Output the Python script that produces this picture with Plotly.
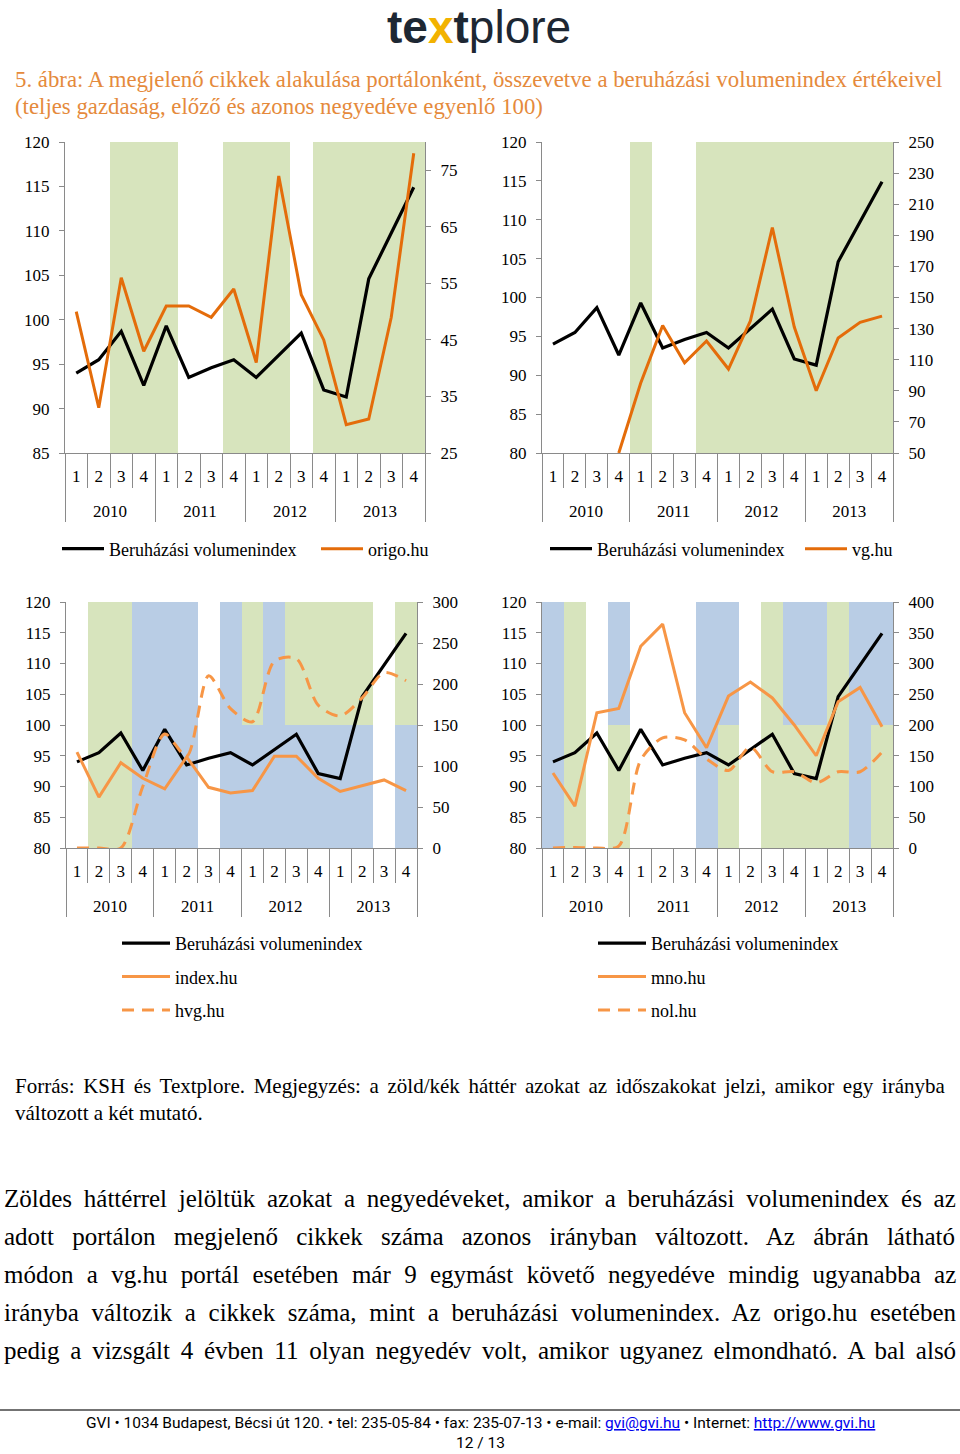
import plotly.graph_objects as go

W, H = 960, 1454


def fx(p):
    return p / W


def fy(p):
    return 1 - p / H


SERIF = "Liberation Serif, Times New Roman, serif"
GREY = "#8a8a8a"
GREEN = "#D7E4BD"
BLUE = "#B9CDE5"
NONE = "rgba(0,0,0,0)"
DARK_OR = "#E46C0A"
LIGHT_OR = "#F79646"
SHADE = {"g": GREEN, "b": BLUE, "": NONE}

# ---------------- data ----------------
YEARS = ["2010", "2011", "2012", "2013"]
QUARTERS = ["1", "2", "3", "4"]

beruhazasi = [94.0, 95.5, 98.7, 92.6, 99.3, 93.5, 94.6, 95.5,
              93.5, 96.0, 98.5, 92.1, 91.3, 104.6, 109.8, 114.9]
origo = [50, 33, 56, 43, 51, 51, 49, 54, 41, 74, 53, 45, 30, 31, 49, 78]
vg = [None, None, None, 50, 95, 132, 108, 122, 104, 135, 195, 131, 90, 124, 134, 138]
index_hu = [117, 62, 104, 85, 72, 111, 74, 67, 70, 112, 112, 85, 69, 76, 83, 70]
hvg = [0, 0, 0, 75, 139, 112, 210, 170, 154, 228, 231, 174, 161, 183, 214, 204]
mno = [122, 68, 220, 227, 328, 364, 220, 163, 247, 270, 244, 200, 150, 238, 261, 197]
nol = [0, 1, 0, 3, 143, 179, 176, 145, 126, 164, 124, 124, 106, 124, 124, 156]

# background shading per quarter ("g" green, "b" blue, "" none); upper / lower half
shade1 = ["", "", "g", "g", "g", "", "", "g", "g", "g", "", "g", "g", "g", "g", "g"]
shade2 = ["", "", "", "", "g", "", "", "g", "g", "g", "g", "g", "g", "g", "g", "g"]
shade3_top = ["", "g", "g", "b", "b", "b", "", "b", "g", "b", "g", "g", "g", "g", "", "g"]
shade3_bot = ["", "g", "g", "b", "b", "b", "", "b", "b", "b", "b", "b", "b", "b", "", "b"]
shade4_top = ["b", "g", "", "b", "", "", "", "b", "b", "", "g", "b", "b", "g", "b", "b"]
shade4_bot = ["b", "g", "", "g", "", "", "", "b", "g", "", "g", "g", "g", "g", "b", "g"]

cat_years = [y for y in YEARS for _ in QUARTERS]
# an empty second line makes room between the quarter row and the year row
cat_q = [q + "<br>\u00a0" for _ in YEARS for q in QUARTERS]
X = [cat_years, cat_q]

charts = [
    dict(xa="x", ya="y", ya2="y2", leg="legend", gx=(65, 425), gy=(142, 453),
         left=(85, 120), right=(25, 80), rtick0=25, rdtick=10,
         bands=[(85, 120, shade1)],
         series=[("origo.hu", origo, DARK_OR, "solid", "linear")]),
    dict(xa="x2", ya="y3", ya2="y4", leg="legend2", gx=(542, 893), gy=(142, 453),
         left=(80, 120), right=(50, 250), rtick0=50, rdtick=20,
         bands=[(80, 120, shade2)],
         series=[("vg.hu", vg, DARK_OR, "solid", "linear")]),
    dict(xa="x3", ya="y5", ya2="y6", leg="legend3", gx=(66, 417), gy=(602, 848),
         left=(80, 120), right=(0, 300), rtick0=0, rdtick=50,
         bands=[(80, 100, shade3_bot), (100, 120, shade3_top)],
         series=[("index.hu", index_hu, LIGHT_OR, "solid", "linear"),
                 ("hvg.hu", hvg, LIGHT_OR, "12px,8px", "spline")]),
    dict(xa="x4", ya="y7", ya2="y8", leg="legend4", gx=(542, 893), gy=(602, 848),
         left=(80, 120), right=(0, 400), rtick0=0, rdtick=50,
         bands=[(80, 100, shade4_bot), (100, 120, shade4_top)],
         series=[("mno.hu", mno, LIGHT_OR, "solid", "linear"),
                 ("nol.hu", nol, LIGHT_OR, "12px,8px", "spline")]),
]

fig = go.Figure()
layout = dict(width=W, height=H, margin=dict(l=0, r=0, t=0, b=0, pad=0, autoexpand=False),
              paper_bgcolor="white", plot_bgcolor="rgba(0,0,0,0)",
              bargap=0, barmode="overlay", showlegend=True)


def axname(a):
    return "xaxis" + a[1:] if a.startswith("x") else "yaxis" + a[1:]


for ci, c in enumerate(charts):
    for lo, hi, codes in c["bands"]:
        fig.add_trace(go.Bar(x=X, y=[hi - lo] * len(cat_q), base=lo,
                             marker=dict(color=[SHADE[s] for s in codes], line=dict(width=0)),
                             xaxis=c["xa"], yaxis=c["ya"], showlegend=False,
                             hoverinfo="skip"))
    fig.add_trace(go.Scatter(x=X, y=beruhazasi, mode="lines", name="Beruházási volumenindex",
                             line=dict(color="black", width=3.2), xaxis=c["xa"], yaxis=c["ya"],
                             legend=c["leg"], legendgroup=f"c{ci}a"))
    for k, (nm, vals, col, dash, shape) in enumerate(c["series"]):
        fig.add_trace(go.Scatter(x=X, y=vals, mode="lines", name=nm,
                                 line=dict(color=col, width=3, dash=dash, shape=shape,
                                           smoothing=0.8 if shape == "spline" else None),
                                 xaxis=c["xa"], yaxis=c["ya2"], legend=c["leg"],
                                 legendgroup=f"c{ci}s{k}"))

    dom_x = [fx(c["gx"][0]), fx(c["gx"][1])]
    dom_y = [fy(c["gy"][1]), fy(c["gy"][0])]
    layout[axname(c["xa"])] = dict(
        type="multicategory", domain=dom_x, anchor=c["ya"], showline=True,
        linecolor=GREY, linewidth=1, ticks="outside", ticklen=34, tickcolor=GREY,
        tickwidth=1, showdividers=True, dividercolor=GREY, dividerwidth=1,
        tickfont=dict(family=SERIF, size=17, color="black"), showgrid=False,
        zeroline=False, ticklabelstandoff=8)
    layout[axname(c["ya"])] = dict(
        domain=dom_y, anchor=c["xa"], range=list(c["left"]), tick0=c["left"][0], dtick=5,
        showline=True, linecolor=GREY, linewidth=1, ticks="outside", ticklen=5,
        tickcolor=GREY, showgrid=False, zeroline=False,
        tickfont=dict(family=SERIF, size=17, color="black"), ticklabelstandoff=6)
    layout[axname(c["ya2"])] = dict(
        overlaying=c["ya"], side="right", anchor=c["xa"], range=list(c["right"]),
        tick0=c["rtick0"], dtick=c["rdtick"], showline=True, linecolor=GREY, linewidth=1,
        ticks="outside", ticklen=5, tickcolor=GREY, showgrid=False, zeroline=False,
        tickfont=dict(family=SERIF, size=17, color="black"), ticklabelstandoff=6)

legfont = dict(family=SERIF, size=18, color="black")
layout["legend"] = dict(orientation="h", x=fx(57), y=fy(549), xanchor="left", yanchor="middle",
                        font=legfont, bgcolor=NONE, itemwidth=42, traceorder="normal",
                        entrywidth=202, entrywidthmode="pixels")
layout["legend2"] = dict(orientation="h", x=fx(545), y=fy(549), xanchor="left", yanchor="middle",
                         font=legfont, bgcolor=NONE, itemwidth=42, traceorder="normal",
                         entrywidth=198, entrywidthmode="pixels")
layout["legend3"] = dict(orientation="v", x=fx(117), y=fy(925), xanchor="left", yanchor="top",
                         font=legfont, bgcolor=NONE, itemwidth=48, tracegroupgap=7)
layout["legend4"] = dict(orientation="v", x=fx(593), y=fy(925), xanchor="left", yanchor="top",
                         font=legfont, bgcolor=NONE, itemwidth=48, tracegroupgap=7)


def justified(words, ws):
    return "<span style='word-spacing:%.1fpx'>%s</span>" % (ws, " ".join(words))


ann = []
ann.append(dict(x=fx(479), y=fy(27), xref="paper", yref="paper", showarrow=False,
                xanchor="center", yanchor="middle",
                text="<b>te<span style='color:#F2B200'>x</span>t</b>plore",
                font=dict(family="Liberation Sans, Arial, sans-serif", size=46, color="#1d2733")))
TITLE_COL = "#E58A3C"
ann.append(dict(x=fx(13), y=fy(80), xref="paper", yref="paper", showarrow=False, xanchor="left",
                yanchor="middle",
                text="5. ábra: A megjelenő cikkek alakulása portálonként, összevetve a beruházási volumenindex értékeivel",
                font=dict(family=SERIF, size=22.8, color=TITLE_COL)))
ann.append(dict(x=fx(13), y=fy(107), xref="paper", yref="paper", showarrow=False, xanchor="left",
                yanchor="middle", text="(teljes gazdaság, előző és azonos negyedéve egyenlő 100)",
                font=dict(family=SERIF, size=22.8, color=TITLE_COL)))
note_lines = [("Forrás: KSH és Textplore. Megjegyzés: a zöld/kék háttér azokat az időszakokat jelzi, amikor egy irányba", 3.4),
              ("változott a két mutató.", 0)]
for i, (t, ws) in enumerate(note_lines):
    ann.append(dict(x=fx(13), y=fy(1086 + 27 * i), xref="paper", yref="paper", showarrow=False,
                    xanchor="left", yanchor="middle", text=justified(t.split(" "), ws),
                    font=dict(family=SERIF, size=21, color="black")))
para = [("Zöldes háttérrel jelöltük azokat a negyedéveket, amikor a beruházási volumenindex és az", 5.5),
        ("adott portálon megjelenő cikkek száma azonos irányban változott. Az ábrán látható", 12.0),
        ("módon a vg.hu portál esetében már 9 egymást követő negyedéve mindig ugyanabba az", 7.1),
        ("irányba változik a cikkek száma, mint a beruházási volumenindex. Az origo.hu esetében", 6.4),
        ("pedig a vizsgált 4 évben 11 olyan negyedév volt, amikor ugyanez elmondható. A bal alsó", 4.5)]
for i, (t, ws) in enumerate(para):
    ann.append(dict(x=fx(2), y=fy(1198 + 38 * i), xref="paper", yref="paper", showarrow=False,
                    xanchor="left", yanchor="middle", text=justified(t.split(" "), ws),
                    font=dict(family=SERIF, size=25, color="black")))
LINK = "<span style='color:#0000EE;text-decoration:underline'>%s</span>"
foot = ("GVI • 1034 Budapest, Bécsi út 120. • tel: 235-05-84 • fax: 235-07-13 • e-mail: "
        + LINK % "gvi@gvi.hu" + " • Internet: " + LINK % "http://www.gvi.hu")
FOOTF = "Liberation Sans Narrow, Roboto, sans-serif"
ann.append(dict(x=fx(480), y=fy(1423), xref="paper", yref="paper", showarrow=False,
                xanchor="center", yanchor="middle", text=foot,
                font=dict(family=FOOTF, size=15.5, color="black")))
ann.append(dict(x=fx(480), y=fy(1443), xref="paper", yref="paper", showarrow=False,
                xanchor="center", yanchor="middle", text="12 / 13",
                font=dict(family=FOOTF, size=15.5, color="black")))
layout["annotations"] = ann
layout["shapes"] = [dict(type="line", xref="paper", yref="paper", x0=0, x1=1,
                         y0=fy(1410), y1=fy(1410), line=dict(color="#444444", width=1.5))]

fig.update_layout(**layout)
fig.write_html("out.html")
